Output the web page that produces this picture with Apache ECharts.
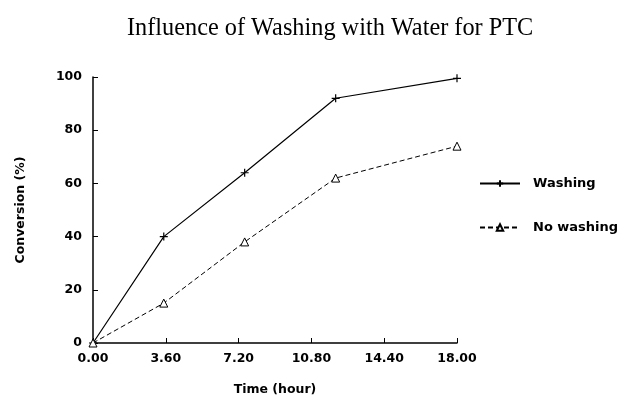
<!DOCTYPE html>
<html>
<head>
<meta charset="utf-8">
<script src="https://cdn.jsdelivr.net/npm/echarts@6/dist/echarts.min.js"></script>
<style>
  html, body { margin: 0; padding: 0; background: #fff; }
  #chart { width: 626px; height: 410px; }
</style>
</head>
<body>
<div id="chart"></div>
<script>
// data
var timeHours = [0, 3.5, 7.5, 12, 18];
var washing = [0, 40, 64, 92, 99.5];
var noWashing = [0, 15, 38, 62, 74];

function pairs(xs, ys) {
    var out = [];
    for (var i = 0; i < xs.length; i++) {
        out.push([xs[i], ys[i]]);
    }
    return out;
}

var chart = echarts.init(document.getElementById('chart'));

var boldFont = 'DejaVu Sans, Verdana, sans-serif';

var labelFont = {
    color: '#000',
    fontFamily: boldFont,
    fontWeight: 'bold',
    fontSize: 12.5
};

var plus = 'path://M5,0 L5,10 M0,5 L10,5';

var option = {
    backgroundColor: '#fff',
    animation: false,
    title: {
        text: 'Influence of Washing with Water for PTC',
        left: 122,
        top: 12,
        textStyle: {
            fontFamily: 'Liberation Serif, Times New Roman, serif',
            fontWeight: 'normal',
            fontSize: 24.3,
            color: '#000'
        }
    },
    legend: {
        orient: 'vertical',
        left: 474,
        top: 172,
        itemGap: 31,
        itemWidth: 40,
        itemHeight: 8,
        textStyle: {
            color: '#000',
            fontFamily: boldFont,
            fontWeight: 'bold',
            fontSize: 13,
            padding: [0, 0, 0, 8]
        },
        data: ['Washing', 'No washing']
    },
    grid: {
        left: 93,
        right: 169,
        top: 77,
        bottom: 67
    },
    xAxis: {
        type: 'value',
        min: 0,
        max: 18,
        interval: 3.6,
        name: 'Time (hour)',
        nameLocation: 'middle',
        nameGap: 40,
        nameTextStyle: labelFont,
        axisLine: { lineStyle: { color: '#000', width: 1.5 } },
        axisTick: { inside: true, length: 5, lineStyle: { color: '#000' } },
        axisLabel: {
            color: '#000',
            fontFamily: boldFont,
            fontWeight: 'bold',
            fontSize: 12.5,
            margin: 9,
            formatter: function (v) { return v.toFixed(2); }
        },
        splitLine: { show: false }
    },
    yAxis: {
        type: 'value',
        min: 0,
        max: 100,
        interval: 20,
        name: 'Conversion (%)',
        nameLocation: 'middle',
        nameGap: 66,
        nameRotate: 90,
        nameTextStyle: labelFont,
        axisLine: { lineStyle: { color: '#000', width: 1.5 } },
        axisTick: { inside: true, length: 5, lineStyle: { color: '#000' } },
        axisLabel: {
            color: '#000',
            fontFamily: boldFont,
            fontWeight: 'bold',
            fontSize: 12.5,
            margin: 11
        },
        splitLine: { show: false }
    },
    series: [
        {
            name: 'Washing',
            type: 'line',
            data: pairs(timeHours, washing),
            symbol: plus,
            symbolSize: 8,
            lineStyle: { color: '#000', width: 1.2, type: 'solid' },
            itemStyle: { color: '#000', borderColor: '#000', borderWidth: 1.2 }
        },
        {
            name: 'No washing',
            type: 'line',
            data: pairs(timeHours, noWashing),
            symbol: 'triangle',
            symbolSize: 8,
            lineStyle: { color: '#000', width: 1, type: [5, 3] },
            itemStyle: { color: '#fff', borderColor: '#000', borderWidth: 1 }
        }
    ]
};

chart.setOption(option);
</script>
</body>
</html>
